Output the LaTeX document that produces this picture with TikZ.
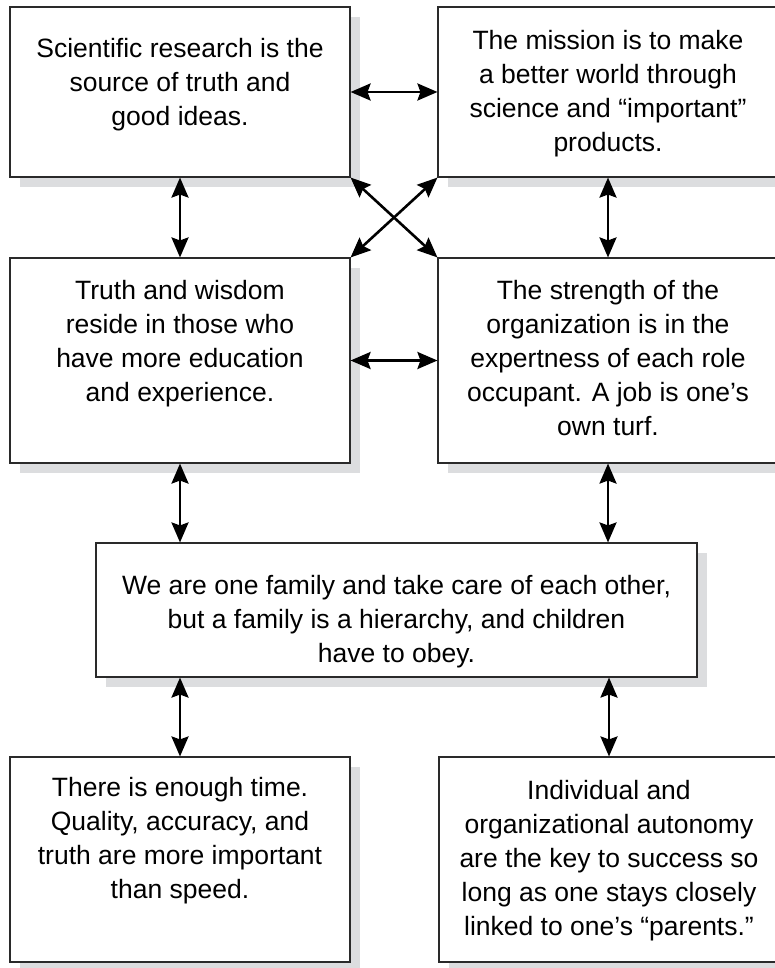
\documentclass[tikz,border=0pt]{standalone}
\usepackage{fontspec}
\setmainfont{Liberation Sans}
\usepackage{tikz}
\usetikzlibrary{positioning}
\usetikzlibrary{arrows.meta, shadows}
\definecolor{shadowgray}{HTML}{DCDDDF}
\definecolor{boxline}{HTML}{2A2A2A}

\begin{document}
\begin{tikzpicture}[x=1pt, y=-1pt,
        box/.style={draw=boxline, line width=1.1pt, fill=white, inner sep=0pt,
            drop shadow={shadow xshift=10pt, shadow yshift=-10pt, fill=shadowgray, opacity=1}},
        txt/.style={align=center, inner sep=0pt, font=\fontsize{26.5}{34}\selectfont},
        link/.style={line width=2.6pt, {Stealth[length=20pt, width=17pt, inset=3pt]}-{Stealth[length=20pt, width=17pt, inset=3pt]}}]
        \useasboundingbox (0, 0) rectangle (775, 968);

        \node [box, minimum width=340pt, minimum height=170pt] (sci) at (180, 92) {};
        \node [box, minimum width=340pt, minimum height=170pt] (mission) at (608, 92) {};
        \node [box, minimum width=340pt, minimum height=205pt] (wisdom) at (180, 360.5) {};
        \node [box, minimum width=340pt, minimum height=205pt] (expert) at (608, 360.5) {};
        \node [box, minimum width=601pt, minimum height=134pt] (family) at (396.5, 610) {};
        \node [box, minimum width=340pt, minimum height=205pt] (time) at (180, 859.5) {};
        \node [box, minimum width=340pt, minimum height=205pt] (autonomy) at (609, 859.5) {};

        \node [txt, below=32pt of sci.north] (sciText) {Scientific research is the\\source of truth and\\good ideas.};
        \node [txt, below=24pt of mission.north] (missionText) {The mission is to make\\a better world through\\science and “important”\\products.};
        \node [txt, below=23pt of wisdom.north] (wisdomText) {Truth and wisdom\\reside in those who\\have more education\\and experience.};
        \node [txt, below=23pt of expert.north] (expertText) {The strength of the\\organization is in the\\expertness of each role\\occupant. A job is one’s\\own turf.};
        \node [txt, below=33pt of family.north] (familyText) {We are one family and take care of each other,\\but a family is a hierarchy, and children\\have to obey.};
        \node [txt, below=21pt of time.north] (timeText) {There is enough time.\\Quality, accuracy, and\\truth are more important\\than speed.};
        \node [txt, below=24pt of autonomy.north] (autonomyText) {Individual and\\organizational autonomy\\are the key to success so\\long as one stays closely\\linked to one’s “parents.”};

        \draw [link] (sci.east) -- (mission.west);
        \draw [link] (sci.south) -- (wisdom.north);
        \draw [link] (mission.south) -- (expert.north);
        \draw [link] (sci.south east) -- (expert.north west);
        \draw [link] (mission.south west) -- (wisdom.north east);
        \draw [link] (wisdom.east) -- (expert.west);

        \draw [link] (wisdom.south) -- (wisdom.south |- family.north);
        \draw [link] (expert.south) -- (expert.south |- family.north);
        \draw [link] (time.north |- family.south) -- (time.north);
        \draw [link] (autonomy.north |- family.south) -- (autonomy.north);
\end{tikzpicture}
\end{document}
